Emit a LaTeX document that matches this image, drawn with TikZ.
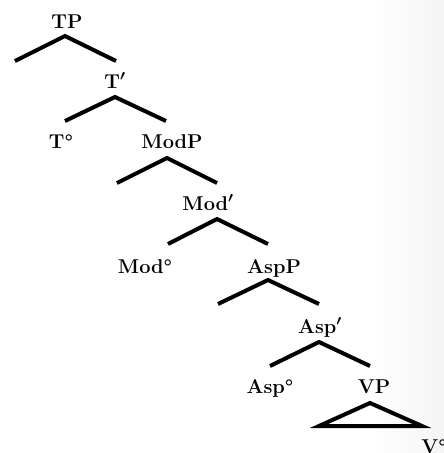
\documentclass[tikz,border=0pt]{standalone}
\newcommand\barprime{{\boldmath$'$}}
\tikzset{
  lbl/.style={anchor=base, font=\fontsize{20}{23}\selectfont\bfseries, inner sep=0pt},
  branch/.style={line width=4pt, line cap=butt, line join=miter},
}
\begin{document}
\begin{tikzpicture}[x=1pt,y=-1pt]
\useasboundingbox (0,0) rectangle (444,453);
\shade[left color=white, right color=black!4, draw=none] (370,0) rectangle (444,453);
% labels
\node[lbl] (TP)   at (67,28)  {TP};
\node[lbl] (Tb)   at (115,88) {T\barprime};
\node[lbl] (T0)   at (61,148) {T°};
\node[lbl] (ModP) at (172,148){ModP};
\node[lbl] (Modb) at (208,210){Mod\barprime};
\node[lbl] (Mod0) at (145,273){Mod°};
\node[lbl] (AspP) at (274,273){AspP};
\node[lbl] (Aspb) at (320,333){Asp\barprime};
\node[lbl] (Asp0) at (270,393){Asp°};
\node[lbl] (VP)   at (374,393){VP};
\node[lbl] (V0)   at (434,453){V°};
% attachment points
\coordinate (TPa)   at (65,36);
\coordinate (TPs)   at (15,61);
\coordinate (Tbt)   at (116,61);
\coordinate (Tba)   at (115,97);
\coordinate (T0t)   at (65,121);
\coordinate (ModPt) at (166,121);
\coordinate (ModPa) at (167,158);
\coordinate (ModPs) at (117,183);
\coordinate (Modbt) at (217,183);
\coordinate (Modba) at (217,219);
\coordinate (Mod0t) at (168,244);
\coordinate (AspPt) at (268,244);
\coordinate (AspPa) at (268,280);
\coordinate (AspPs) at (218,304);
\coordinate (Aspbt) at (319,304);
\coordinate (Aspba) at (319,342);
\coordinate (Asp0t) at (270,366);
\coordinate (VPt)   at (370,366);
\coordinate (VPa)   at (370,403);
\coordinate (VPl)   at (319,426);
\coordinate (VPr)   at (422,426);
% branches
\draw[branch] (TPs) -- (TPa) -- (Tbt);
\draw[branch] (T0t) -- (Tba) -- (ModPt);
\draw[branch] (ModPs) -- (ModPa) -- (Modbt);
\draw[branch] (Mod0t) -- (Modba) -- (AspPt);
\draw[branch] (AspPs) -- (AspPa) -- (Aspbt);
\draw[branch] (Asp0t) -- (Aspba) -- (VPt);
\draw[branch] (VPl) -- (VPa) -- (VPr) -- cycle;
\end{tikzpicture}
\end{document}
